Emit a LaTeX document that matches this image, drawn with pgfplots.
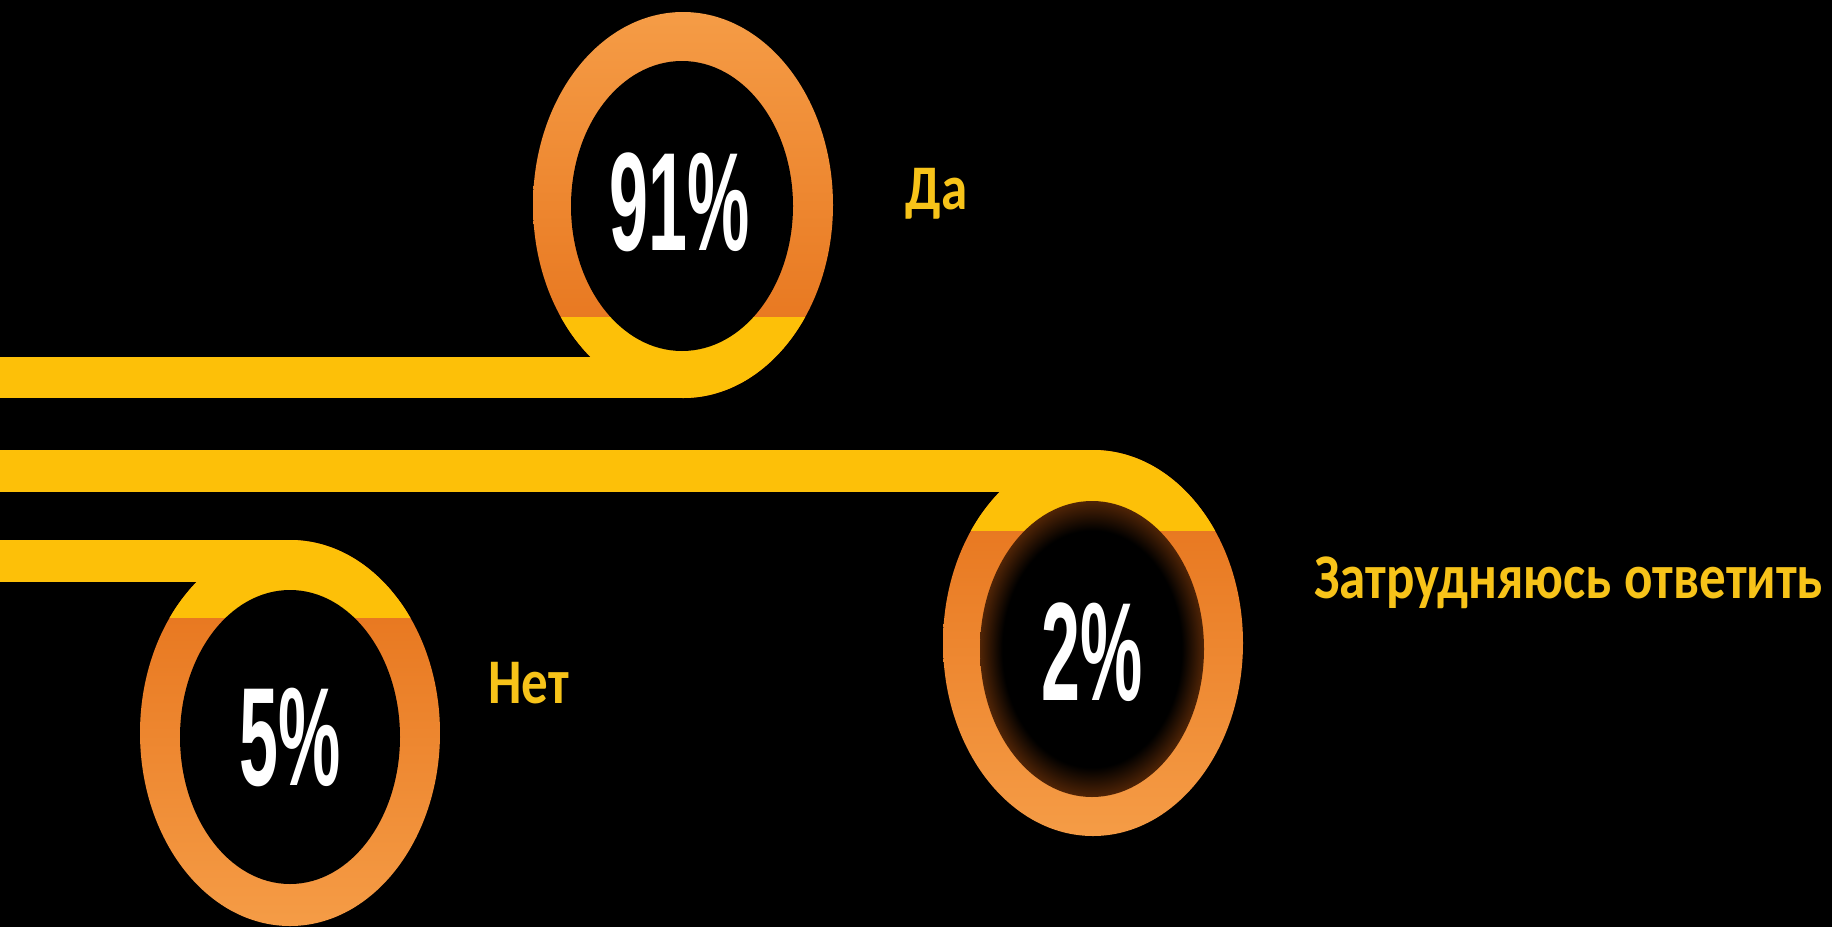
\documentclass[border=0pt]{standalone}
\usepackage{fontspec}
\usepackage{graphicx}
\usepackage{pgfplots}
\pgfplotsset{compat=1.18}
\newfontfamily\lblfont{Carlito}
\newfontfamily\pctfont{Liberation Sans}

\definecolor{gold}{RGB}{253,192,8}
\definecolor{lbl}{RGB}{247,195,25}
\definecolor{orlight}{RGB}{245,156,70}
\definecolor{ordark}{RGB}{229,112,24}
\definecolor{glow}{RGB}{80,36,6}
\pgfdeclareradialshading{innerglow}{\pgfpoint{0bp}{0bp}}{color(0bp)=(black); color(20bp)=(black); color(25bp)=(glow); color(50bp)=(glow)}

\begin{document}
\begin{tikzpicture}
\begin{axis}[
  name=ax,
  x=0.5pt, y=0.5pt, y dir=reverse,
  xmin=0, xmax=1832, ymin=0, ymax=927,
  hide axis,
]
\fill[black] (axis cs:0,0) rectangle (axis cs:1832,927);

% ring for "Да": band enters at the bottom
\shade[top color=orlight, bottom color=ordark] (axis cs:683,205) ellipse [x radius=75pt, y radius=96.5pt];
\begin{scope}
  \clip (axis cs:0,317) rectangle (axis cs:1832,927);
  \fill[gold] (axis cs:683,205) ellipse [x radius=75pt, y radius=96.5pt];
\end{scope}
\fill[gold] (axis cs:0,357) rectangle (axis cs:683,398);
\fill[black] (axis cs:682,206) ellipse [x radius=55.5pt, y radius=72.5pt];

% ring for "Затрудняюсь ответить": band enters at the top
\shade[top color=ordark, bottom color=orlight] (axis cs:1093,643) ellipse [x radius=75pt, y radius=96.5pt];
\begin{scope}
  \clip (axis cs:0,0) rectangle (axis cs:1832,530);
  \fill[gold] (axis cs:1093,643) ellipse [x radius=75pt, y radius=96.5pt];
\end{scope}
\fill[gold] (axis cs:0,450) rectangle (axis cs:1093,492);
\shade[shading=innerglow] (axis cs:1092,649) ellipse [x radius=56pt, y radius=74pt];

% ring for "Нет"
\shade[top color=ordark, bottom color=orlight] (axis cs:290,733) ellipse [x radius=75pt, y radius=96.5pt];
\begin{scope}
  \clip (axis cs:0,0) rectangle (axis cs:1832,617);
  \fill[gold] (axis cs:290,733) ellipse [x radius=75pt, y radius=96.5pt];
\end{scope}
\fill[gold] (axis cs:0,540) rectangle (axis cs:290,582);
\fill[black] (axis cs:290,737) ellipse [x radius=55pt, y radius=73.5pt];

% percentages
\addplot[draw=none, mark=none, point meta=explicit symbolic,
  nodes near coords={\scalebox{0.5}[1]{\pgfplotspointmeta\%}},
  every node near coord/.append style={anchor=center, inner sep=0pt, text=white,
    font=\pctfont\bfseries\fontsize{70}{74}\selectfont}]
coordinates {(680,202)[91] (290,737)[5] (1092,652)[2]};

% answers
\addplot[draw=none, mark=none, point meta=explicit symbolic,
  nodes near coords={\scalebox{1}[1.2]{\pgfplotspointmeta}},
  every node near coord/.append style={anchor=base west, inner sep=0pt, text=lbl,
    font=\lblfont\bfseries\fontsize{26.5}{30}\selectfont}]
coordinates {(905,209)[Да] (488,703)[Нет] (1314,598)[Затрудняюсь ответить]};
\end{axis}
\pgfresetboundingbox
\path[use as bounding box] (ax.south west) rectangle (ax.north east);
\end{tikzpicture}
\end{document}
